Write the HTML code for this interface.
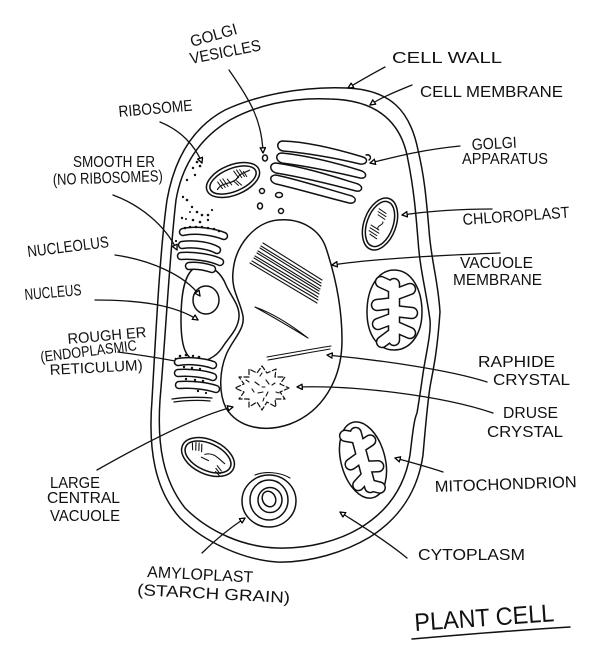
<!DOCTYPE html>
<html><head><meta charset="utf-8"><style>
html,body{margin:0;padding:0;background:#fff;}
svg{display:block;}
text{font-family:"Liberation Sans",sans-serif;font-size:16px;fill:#111;}
</style></head><body>
<svg width="600" height="653" viewBox="0 0 600 653" xmlns="http://www.w3.org/2000/svg">
<defs>
<marker id="a" viewBox="0 0 10 10" refX="9" refY="5" markerWidth="5" markerHeight="5" orient="auto"><path d="M1,1 L9,5 L1,9 Z" fill="#fff" stroke="#000" stroke-width="2"/></marker>
</defs>
<g fill="none" stroke="#111" stroke-width="1.5" stroke-linecap="round" stroke-linejoin="round">
<!-- cell wall -->
<path d="M347,88 C300,86 255,96 225,110 C195,126 175,155 167,200 C160,250 156,330 152,400 C148,450 155,490 180,518 C205,543 245,560 277,562 C310,563 345,552 370,537 C400,518 418,490 423,455 C426,420 428,400 430,387 C433,370 437,355 440,312 C438,280 431,260 429,230 C426,195 424,175 418,150 C410,110 390,90 347,88 Z"/>
<!-- cell membrane -->
<path d="M330,99 C290,97 255,106 230,120 C200,138 182,165 176,200 C170,250 166,330 160,400 C157,445 163,480 185,508 C210,533 245,547 277,548 C310,549 340,540 360,528 C390,510 405,485 410,455 C413,430 414,420 417,413 C420,395 422,380 424,367 C428,345 431,330 430,320 C426,290 420,270 418,240 C416,215 414,190 408,160 C402,125 380,100 330,99 Z"/>
<!-- vacuole -->
<path d="M243,316 C240,300 231,290 233,272 C235,245 255,222 278,220 C302,218 320,230 326,248 C335,275 342,305 342,340 C342,380 322,412 290,424 C265,433 238,428 226,408 C218,392 220,370 226,355 C232,340 245,330 243,316 Z"/>
<!-- nucleus -->
<path d="M200,266 C214,265 222,275 226,285 C230,295 240,305 239,317 C238,330 228,338 222,348 C215,358 205,362 197,361 C185,359 181,345 181,320 C181,295 184,268 200,266 Z"/>
<ellipse cx="206" cy="300" rx="13" ry="14"/>
<!-- golgi apparatus -->
<path d="M283,141 C310,142 340,150 363,157 C369,159 367,165 360,164 C335,158 305,153 283,151 C276,150 276,141 283,141 Z"/>
<path d="M366,155 C370,154 372,158 369,160"/>
<path d="M282,153 C310,156 340,164 362,171 C368,174 366,179 360,178 C335,172 305,166 282,163 C275,161 275,153 282,153 Z"/>
<path d="M276,163 C305,167 335,177 358,184 C364,187 362,192 356,191 C330,184 300,177 276,173 C269,171 269,163 276,163 Z"/>
<path d="M276,175 C300,180 330,190 352,196 C358,199 355,204 349,203 C325,197 298,189 276,184 C269,182 269,175 276,175 Z"/>
<!-- golgi vesicles -->
<ellipse cx="265" cy="158" rx="2.5" ry="3"/>
<ellipse cx="262" cy="191" rx="2.5" ry="2.5"/>
<ellipse cx="279" cy="195" rx="3.5" ry="2.5"/>
<ellipse cx="260" cy="206" rx="2.5" ry="3"/>
<ellipse cx="281" cy="211" rx="2.5" ry="2.5"/>
<!-- chloroplast 1 -->
<g transform="translate(233,180) rotate(-22)">
<ellipse rx="28" ry="15"/><ellipse rx="24.5" ry="11.5"/>
<path d="M-18,3 C-10,-3 -2,5 6,-1 C10,-4 15,-2 19,-3" stroke-width="1.2"/>
<path d="M-15,-4 l2,8 M-12,-5 l2,9 M-9,-5 l2,9 M-5,-3 l2,7 M4,-8 l2,8 M7,-8 l2,9 M10,-7 l2,8 M13,-4 l1,6 M0,1 l3,6 M3,2 l3,6" stroke-width="1"/>
</g>
<!-- chloroplast 2 -->
<g transform="translate(380,224) rotate(20)">
<ellipse rx="16" ry="27"/><ellipse rx="13" ry="23.5"/>
<path d="M-6,-14 l8,2 M-6,-11 l9,2 M-5,-8 l8,2 M-8,4 l9,2 M-8,7 l10,2 M-8,10 l9,2 M-6,13 l8,2 M2,-3 C4,0 -3,2 0,6" stroke-width="1"/>
</g>
<!-- chloroplast 3 -->
<g transform="translate(208,457) rotate(25)">
<ellipse rx="28" ry="17"/><ellipse rx="24.5" ry="13.5"/>
<path d="M-20,-6 l3,6 M-17,-8 l3,7 M-14,-9 l3,7 M-11,-9 l3,7 M-4,-1 C3,-7 10,-3 18,-1 M-6,3 l8,0 M12,4 l6,3 M12,7 l6,3 M13,10 l5,2" stroke-width="1.1"/>
</g>
<!-- mitochondrion 1 -->
<path d="M394,270 C412,270 422,290 422,312 C422,335 410,350 394,350 C378,350 367,335 367,312 C367,288 378,270 394,270 Z"/>
<!-- mitochondrion 2 -->
<g transform="translate(363,460) rotate(-15)">
<ellipse rx="22" ry="39"/>
</g>
<!-- amyloplast -->
<ellipse cx="269" cy="501" rx="27" ry="26"/>
<ellipse cx="269" cy="500" rx="19" ry="20"/>
<ellipse cx="270" cy="500" rx="12" ry="12.5"/>
<ellipse cx="269" cy="499" rx="6.5" ry="8" transform="rotate(-25 269 499)"/>
<path d="M255,475 C265,471 280,472 290,478" stroke-width="1.1"/>
<!-- raphides -->
<g stroke-width="1.1">
<path d="M263,243 L322,280 M261,246 L321,283 M260,248 L321,286 M258,251 L320,289 M257,253 L319,291 M255,256 L319,294 M254,258 L318,297 M252,261 L318,300 M250,263 L317,303"/>
<path d="M255,307 C275,318 295,330 308,338 C295,328 275,314 255,307 Z"/>
<path d="M267,357 C290,353 312,349 331,346 M268,360 C292,356 312,352 330,349"/>
</g>
<!-- druse -->
<path d="M289,388 L280,392 L285,399 L275,399 L276,407 L267,402 L262,410 L257,402 L249,407 L249,399 L239,399 L244,392 L235,388 L244,384 L239,377 L249,377 L249,369 L257,373 L262,366 L267,373 L276,369 L275,377 L285,377 L280,384 Z" stroke-width="1.2" stroke-dasharray="5 2.5"/>
<path d="M255,382 l4,3 M266,380 l3,4 M258,393 l5,-1 M268,392 l-2,4 M262,387 l3,0 M252,389 l2,3 M272,385 l3,-2 M246,380 l3,2 M276,392 l3,1 M260,376 l2,-3 M264,398 l-1,3" stroke-width="1.1"/>
<!-- arrows -->
<g stroke-width="1.3" marker-end="url(#a)">
<path d="M229,70 C250,100 262,120 263,153"/>
<path d="M160,122 C180,130 195,145 202,163"/>
<path d="M113,195 C140,205 165,225 177,250"/>
<path d="M115,255 C150,260 185,275 200,296"/>
<path d="M95,300 C140,300 175,305 198,320"/>
<path d="M118,352 C140,355 160,358 180,362"/>
<path d="M97,470 C150,440 200,415 233,407"/>
<path d="M202,553 C215,540 230,528 245,518"/>
<path d="M407,558 C385,540 360,525 340,512"/>
<path d="M443,472 C425,466 410,462 395,458"/>
<path d="M487,382 C450,370 380,360 327,355"/>
<path d="M493,413 C440,395 350,385 297,387"/>
<path d="M500,253 C450,255 380,258 332,265"/>
<path d="M460,146 C420,150 395,157 370,163"/>
<path d="M492,209 C460,209 430,211 402,215"/>
<path d="M385,67 C370,75 358,82 348,88"/>
<path d="M412,85 C395,92 380,98 370,105"/>
</g>
<!-- plant cell underline -->
<path d="M412,639 C470,634 520,630 570,627"/>
</g>
<!-- cristae (outline trick) -->
<g fill="none" stroke-linecap="round" stroke-linejoin="round">
<g stroke="#111" stroke-width="12.5">
<path d="M394,284 L394,340 M394,288 L381,282 M394,303 L377,305 M394,318 L378,324 M394,333 L382,342 M394,295 L410,289 M394,311 L412,313 M394,326 L410,333"/>
<g transform="translate(363,460) rotate(-15)"><path d="M0,-28 L0,28 M0,-23 L-11,-28 M0,-4 L-13,1 M0,16 L-11,23 M0,-13 L12,-17 M0,7 L13,10 M0,26 L9,31"/></g>
</g>
<g stroke="#fff" stroke-width="9.5">
<path d="M394,284 L394,340 M394,288 L381,282 M394,303 L377,305 M394,318 L378,324 M394,333 L382,342 M394,295 L410,289 M394,311 L412,313 M394,326 L410,333"/>
<g transform="translate(363,460) rotate(-15)"><path d="M0,-28 L0,28 M0,-23 L-11,-28 M0,-4 L-13,1 M0,16 L-11,23 M0,-13 L12,-17 M0,7 L13,10 M0,26 L9,31"/></g>
</g>
<!-- smooth ER -->
<g stroke="#111" stroke-width="8.5">
<path d="M183,232 C196,229 214,232 224,236"/>
<path d="M182,245 C195,243 210,246 217,250"/>
<path d="M181,256 C195,255 212,258 220,262"/>
<path d="M189,266 C198,265 206,267 212,269"/>
<path d="M178,362 C190,360 205,362 213,365"/>
<path d="M178,373 C190,372 205,374 213,377"/>
<path d="M179,385 C192,384 207,386 216,389"/>
</g>
<g stroke="#fff" stroke-width="5.5">
<path d="M183,232 C196,229 214,232 224,236"/>
<path d="M182,245 C195,243 210,246 217,250"/>
<path d="M181,256 C195,255 212,258 220,262"/>
<path d="M189,266 C198,265 206,267 212,269"/>
<path d="M178,362 C190,360 205,362 213,365"/>
<path d="M178,373 C190,372 205,374 213,377"/>
<path d="M179,385 C192,384 207,386 216,389"/>
</g>
<path d="M172,399 C185,397 200,397 212,398 M174,402 C188,400 200,400 210,401" stroke="#111" stroke-width="1.3"/>
</g>
<!-- ribosomes & ER dots -->
<g fill="#111">
<circle cx="197" cy="162" r="1.3"/><circle cx="200" cy="166" r="1.3"/><circle cx="193" cy="168" r="1.2"/>
<circle cx="195" cy="175" r="1.2"/><circle cx="187" cy="180" r="1.2"/><circle cx="183" cy="197" r="1.2"/>
<circle cx="187" cy="200" r="1.3"/><circle cx="192" cy="207" r="1.2"/><circle cx="197" cy="212" r="1.3"/>
<circle cx="202" cy="215" r="1.3"/><circle cx="208" cy="215" r="1.3"/><circle cx="182" cy="218" r="1.2"/>
<circle cx="193" cy="220" r="1.3"/><circle cx="208" cy="220" r="1.2"/><circle cx="200" cy="222" r="1.3"/>
<circle cx="186" cy="219" r="1"/><circle cx="212" cy="210" r="1.1"/><circle cx="190" cy="212" r="1"/>
<circle cx="185" cy="228" r="1.3"/><circle cx="190" cy="227" r="1.3"/><circle cx="196" cy="227" r="1.3"/><circle cx="202" cy="227" r="1.3"/><circle cx="208" cy="228" r="1.3"/><circle cx="214" cy="229" r="1.3"/><circle cx="219" cy="231" r="1.3"/>
<circle cx="176" cy="241" r="1.1"/>
<circle cx="180" cy="356" r="1.3"/><circle cx="186" cy="355" r="1.3"/><circle cx="193" cy="356" r="1.2"/><circle cx="199" cy="357" r="1.3"/><circle cx="184" cy="367" r="1.2"/><circle cx="192" cy="368" r="1.2"/><circle cx="200" cy="369" r="1.2"/><circle cx="186" cy="379" r="1.2"/><circle cx="195" cy="380" r="1.2"/><circle cx="203" cy="381" r="1.2"/><circle cx="198" cy="391" r="1.2"/><circle cx="206" cy="393" r="1.1"/>
</g>
<!-- labels -->
<text x="192" y="47" textLength="48" lengthAdjust="spacingAndGlyphs" transform="rotate(-16 192 47)">GOLGI</text>
<text x="191" y="64" textLength="72" lengthAdjust="spacingAndGlyphs" transform="rotate(-11 191 64)">VESICLES</text>
<text x="119" y="117" textLength="74" lengthAdjust="spacingAndGlyphs" transform="rotate(-5 119 117)">RIBOSOME</text>
<text x="73" y="167" textLength="82" lengthAdjust="spacingAndGlyphs">SMOOTH ER</text>
<text x="53" y="185" textLength="110" lengthAdjust="spacingAndGlyphs" transform="rotate(-2 53 185)">(NO RIBOSOMES)</text>
<text x="28" y="257" textLength="82" lengthAdjust="spacingAndGlyphs" transform="rotate(-7 28 257)">NUCLEOLUS</text>
<text x="25" y="300" textLength="57" lengthAdjust="spacingAndGlyphs" transform="rotate(-5 25 300)">NUCLEUS</text>
<text x="68" y="344" textLength="79" lengthAdjust="spacingAndGlyphs" transform="rotate(-5 68 344)" style="font-size:15px">ROUGH ER</text>
<text x="41" y="362" textLength="97" lengthAdjust="spacingAndGlyphs" transform="rotate(-7 41 362)" style="font-size:15px">(ENDOPLASMIC</text>
<text x="50" y="375" textLength="93" lengthAdjust="spacingAndGlyphs" transform="rotate(-3 50 375)" style="font-size:15px">RETICULUM)</text>
<text x="50" y="488" textLength="50" lengthAdjust="spacingAndGlyphs">LARGE</text>
<text x="47" y="503" textLength="73" lengthAdjust="spacingAndGlyphs">CENTRAL</text>
<text x="50" y="521" textLength="70" lengthAdjust="spacingAndGlyphs">VACUOLE</text>
<text x="147" y="577" textLength="106" lengthAdjust="spacingAndGlyphs" transform="rotate(3 147 577)">AMYLOPLAST</text>
<text x="137" y="595" textLength="153" lengthAdjust="spacingAndGlyphs" transform="rotate(3 137 595)">(STARCH GRAIN)</text>
<text x="418" y="560" textLength="107" lengthAdjust="spacingAndGlyphs">CYTOPLASM</text>
<text x="435" y="492" textLength="142" lengthAdjust="spacingAndGlyphs" transform="rotate(-2 435 492)">MITOCHONDRION</text>
<text x="478" y="367" textLength="77" lengthAdjust="spacingAndGlyphs">RAPHIDE</text>
<text x="493" y="385" textLength="77" lengthAdjust="spacingAndGlyphs">CRYSTAL</text>
<text x="503" y="418" textLength="55" lengthAdjust="spacingAndGlyphs">DRUSE</text>
<text x="487" y="437" textLength="76" lengthAdjust="spacingAndGlyphs">CRYSTAL</text>
<text x="460" y="268" textLength="73" lengthAdjust="spacingAndGlyphs">VACUOLE</text>
<text x="453" y="285" textLength="89" lengthAdjust="spacingAndGlyphs">MEMBRANE</text>
<text x="472" y="150" textLength="45" lengthAdjust="spacingAndGlyphs" transform="rotate(-3 472 150)">GOLGI</text>
<text x="462" y="164" textLength="86" lengthAdjust="spacingAndGlyphs">APPARATUS</text>
<text x="463" y="225" textLength="107" lengthAdjust="spacingAndGlyphs" transform="rotate(-4 463 225)">CHLOROPLAST</text>
<text x="392" y="63" textLength="110" lengthAdjust="spacingAndGlyphs">CELL WALL</text>
<text x="420" y="97" textLength="143" lengthAdjust="spacingAndGlyphs">CELL MEMBRANE</text>
<text x="415" y="631" textLength="140" lengthAdjust="spacingAndGlyphs" transform="rotate(-4 415 631)" style="font-size:25px">PLANT CELL</text>
</svg>
</body></html>
